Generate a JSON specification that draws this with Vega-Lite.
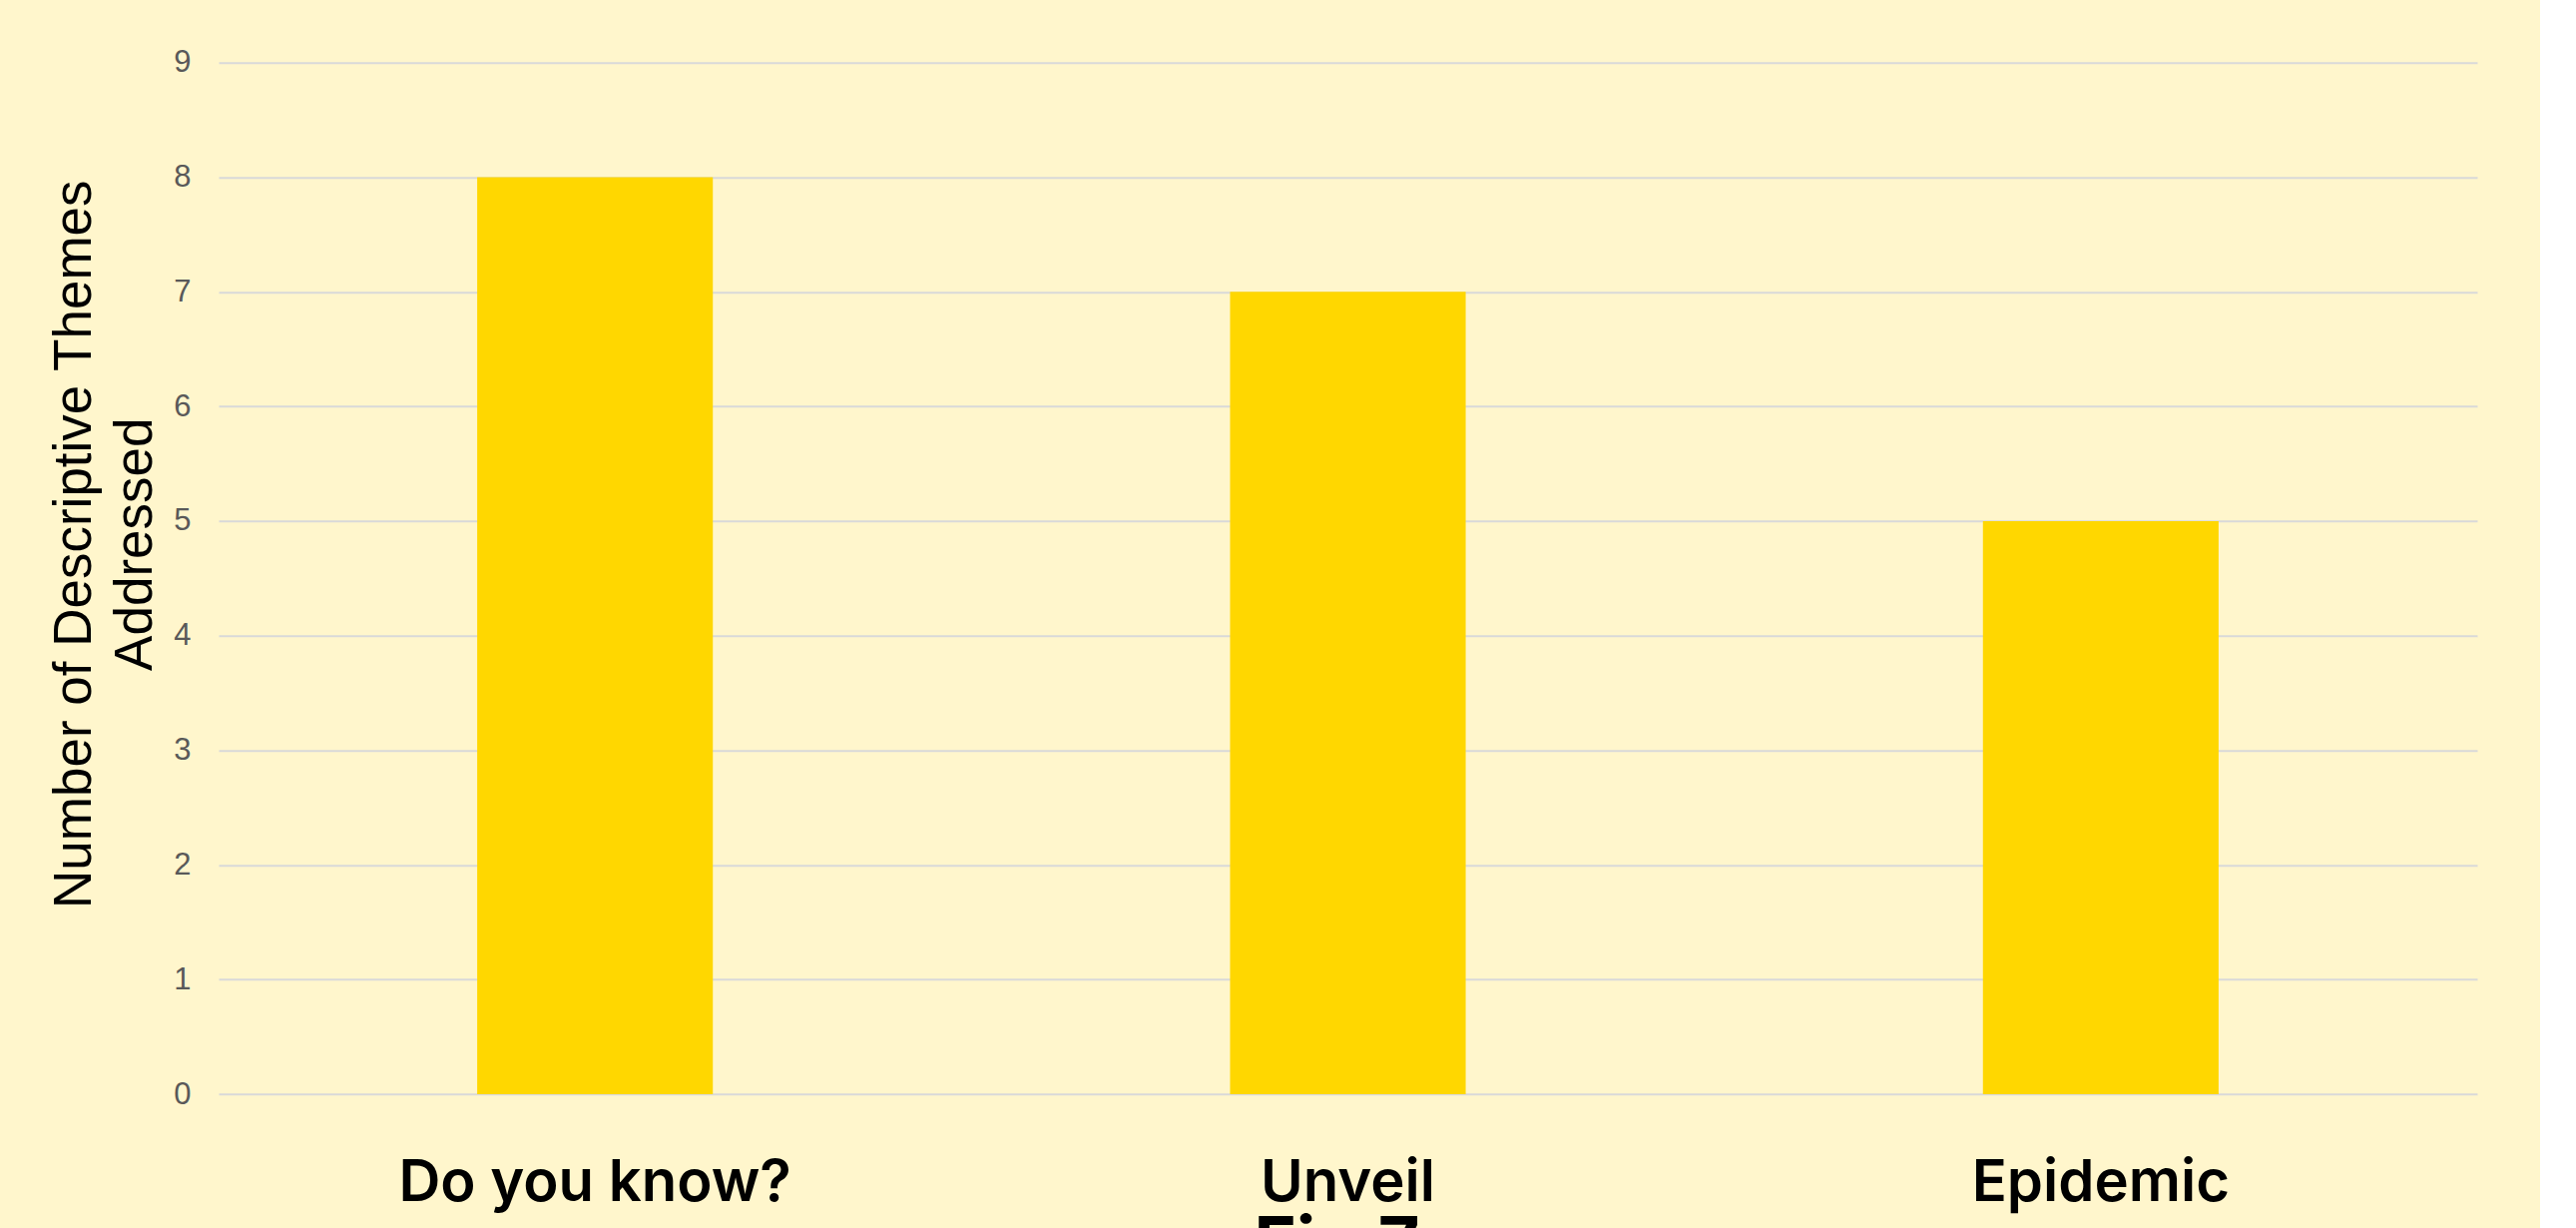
{
  "$schema": "https://vega.github.io/schema/vega-lite/v6.json",
  "autosize": {"type": "none"},
  "width": 2263,
  "height": 1033.3,
  "padding": {"left": 219, "top": 62.7, "right": 63, "bottom": 134},
  "background": "#FFF6CC",
  "config": {"view": {"stroke": null}},
  "data": {
    "values": [
      {"video": "Do you know?", "themes": 8},
      {"video": "Unveil", "themes": 7},
      {"video": "Epidemic", "themes": 5}
    ]
  },
  "mark": {"type": "bar", "color": "#FFD700"},
  "encoding": {
    "x": {
      "field": "video",
      "type": "nominal",
      "sort": null,
      "scale": {"paddingInner": 0.687, "paddingOuter": 0.3435},
      "axis": {
        "title": "Fig 7",
        "titleFont": "Inter",
        "titleFontSize": 72,
        "titleFontWeight": 700,
        "titleColor": "#000000",
        "titleBaseline": "alphabetic",
        "titleAlign": "center",
        "titleX": 1120,
        "titleY": 173,
        "titleLimit": 0,
        "labelAngle": 0,
        "labelFont": "Inter",
        "labelFontSize": 58,
        "labelFontWeight": 600,
        "labelColor": "#000000",
        "labelBaseline": "alphabetic",
        "labelPadding": 106,
        "labelLimit": 0,
        "ticks": false,
        "domain": false,
        "grid": false
      }
    },
    "y": {
      "field": "themes",
      "type": "quantitative",
      "scale": {"domain": [0, 9], "nice": false},
      "axis": {
        "values": [0, 1, 2, 3, 4, 5, 6, 7, 8, 9],
        "title": ["Number of Descriptive Themes", "Addressed"],
        "titleFont": "Liberation Sans",
        "titleFontSize": 53,
        "titleFontWeight": "normal",
        "titleColor": "#000000",
        "titleAngle": -90,
        "titleAlign": "center",
        "titleBaseline": "alphabetic",
        "titleLineHeight": 61.3,
        "titleX": -128.3,
        "titleY": 482,
        "titleLimit": 0,
        "labelFont": "Liberation Sans",
        "labelFontSize": 31,
        "labelColor": "#595959",
        "labelPadding": 28,
        "ticks": false,
        "domain": false,
        "grid": true,
        "gridColor": "#D9D9D9",
        "gridWidth": 2
      }
    }
  }
}
